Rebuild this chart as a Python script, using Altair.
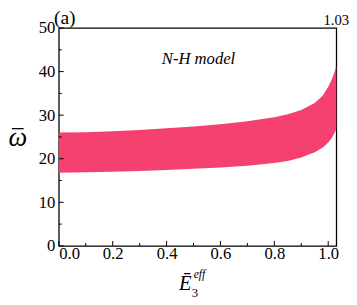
import altair as alt
import pandas as pd

# Band data
E3 = [0.0, 0.1, 0.2, 0.3, 0.4, 0.5, 0.6, 0.7, 0.8, 0.85, 0.9, 0.95, 0.98, 1.0, 1.01, 1.02, 1.03]
upper = [26.0, 26.1, 26.3, 26.6, 27.0, 27.4, 27.9, 28.6, 29.5, 30.2, 31.2, 32.8, 34.5, 36.5, 37.8, 39.3, 41.3]
lower = [16.8, 16.9, 17.0, 17.2, 17.4, 17.7, 18.0, 18.4, 19.0, 19.5, 20.3, 21.5, 22.6, 23.7, 24.5, 25.5, 26.8]

y_major = [0, 10, 20, 30, 40, 50]
y_minor = [5, 15, 25, 35, 45]
x_major = [0.0, 0.2, 0.4, 0.6, 0.8, 1.0]
x_minor = [0.1, 0.3, 0.5, 0.7, 0.9]
x_max = 1.03

FONT = "Liberation Serif"
W, H = 284, 223

band_df = pd.DataFrame({"E": E3, "up": upper, "lo": lower})
xs = alt.Scale(domain=[0, x_max], nice=False, zero=False)
ys = alt.Scale(domain=[0, 50], nice=False)

band = alt.Chart(band_df).mark_area(color="#F4416F", opacity=1).encode(
    x=alt.X("E:Q", scale=xs, axis=alt.Axis(values=x_major, format=".1f", title=None,
                                            domain=False, ticks=False, grid=False,
                                            labelFont=FONT, labelFontSize=17, labelColor="black",
                                            labelPadding=0)),
    y=alt.Y("up:Q", scale=ys, axis=alt.Axis(values=y_major, title=None,
                                             domain=False, ticks=False, grid=False,
                                             labelFont=FONT, labelFontSize=17, labelColor="black",
                                             labelPadding=4)),
    y2="lo:Q",
)

ymaj = alt.Chart(pd.DataFrame({"v": y_major})).mark_rule(color="black", strokeWidth=1).encode(
    y=alt.Y("v:Q", scale=ys), x=alt.value(0), x2=alt.value(5))
ymin = alt.Chart(pd.DataFrame({"v": y_minor})).mark_rule(color="black", strokeWidth=1).encode(
    y=alt.Y("v:Q", scale=ys), x=alt.value(0), x2=alt.value(3))
xmaj = alt.Chart(pd.DataFrame({"v": x_major})).mark_rule(color="black", strokeWidth=1).encode(
    x=alt.X("v:Q", scale=xs), y=alt.value(H), y2=alt.value(H - 5))
xmin = alt.Chart(pd.DataFrame({"v": x_minor})).mark_rule(color="black", strokeWidth=1).encode(
    x=alt.X("v:Q", scale=xs), y=alt.value(H), y2=alt.value(H - 3))

top_lbl = alt.Chart(pd.DataFrame({"v": [x_max], "t": ["1.03"]})).mark_text(
    font=FONT, fontSize=15, baseline="alphabetic", align="center", color="black").encode(
    x=alt.X("v:Q", scale=xs), y=alt.value(-3), text="t:N")

def txt(s, x, y, size, style="normal", align="center", baseline="alphabetic"):
    return alt.Chart(pd.DataFrame({"t": [s]})).mark_text(
        font=FONT, fontSize=size, fontStyle=style, align=align, baseline=baseline,
        color="black").encode(x=alt.value(x), y=alt.value(y), text="t:N")

panel = txt("(a)", -5, -4, 20, align="left")
model = txt("N-H model", 143, 37, 17, style="italic")
ytitle = txt("\u03c9", -42, 121, 27, style="italic")
ybar = alt.Chart(pd.DataFrame({"a": [0]})).mark_rule(color="black", strokeWidth=1.3).encode(
    x=alt.value(-48), x2=alt.value(-36), y=alt.value(103))
xE = txt("\u0112", 123, 268, 21, style="italic", align="left")
xsub = txt("3", 136, 275, 13, align="left")
xsup = txt("eff", 138, 256, 12, style="italic", align="left")

chart = alt.layer(band, ymaj, ymin, xmaj, xmin, top_lbl, panel, model, ytitle, ybar, xE, xsub, xsup).properties(
    width=W, height=H,
    autosize=alt.AutoSizeParams(type="none"),
    padding={"left": 52, "top": 17, "right": 13, "bottom": 57},
).configure_view(stroke="black", strokeWidth=1.3)

chart.save("out.html", embed_options={"renderer": "svg", "actions": False})
